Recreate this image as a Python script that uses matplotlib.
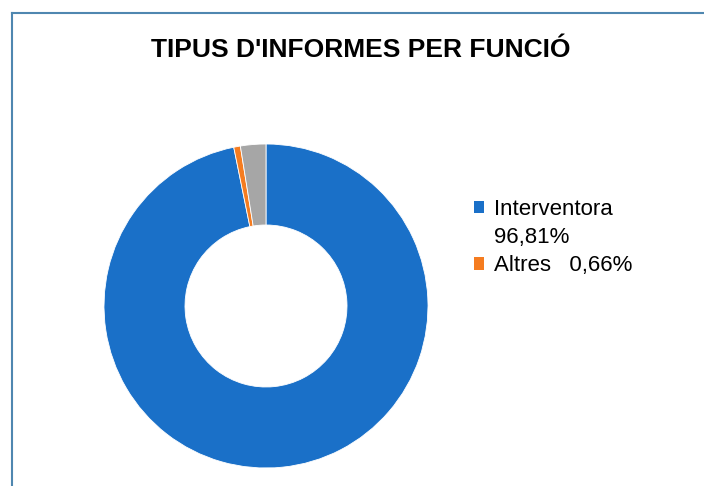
import matplotlib
matplotlib.use("Agg")
from matplotlib import pyplot as plt
from matplotlib.lines import Line2D
from matplotlib.patches import Patch

plt.rcParams['font.family'] = ['Liberation Sans', 'DejaVu Sans']

# Data
names = ["Interventora", "Altres", ""]
pct_labels = ["96,81%", "0,66%", "2,53%"]
values = [96.81, 0.66, 2.53]
colors = ['#1a70c8', '#f57c20', '#a6a6a6']

fig = plt.figure(figsize=(7.04, 4.86), dpi=100)

# donut: center ~(266,306) px, outer radius ~162 px
ax = fig.add_axes([104/704, 18/486, 324/704, 324/486])
wedges, _ = ax.pie(values, colors=colors, startangle=90, counterclock=False,
                   radius=1.0, wedgeprops=dict(width=0.5, edgecolor='white', linewidth=0.6))
ax.set_xlim(-1, 1)
ax.set_ylim(-1, 1)
ax.set_aspect('equal')
ax.axis('off')

# title
fig.text(361/704, 1 - 50/486, "TIPUS D'INFORMES PER FUNCIÓ", ha='center', va='center',
         fontsize=19, fontweight='bold', color='black')

# legend (only the first two series shown, first one wraps onto two lines)
handles = [Patch(facecolor=colors[0], edgecolor='none'),
           Patch(facecolor='none', edgecolor='none'),
           Patch(facecolor=colors[1], edgecolor='none')]
leg_labels = [names[0], pct_labels[0], names[1] + "   " + pct_labels[1]]
fig.legend(handles, leg_labels, loc='upper left', bbox_to_anchor=(465/704, 1 - 190/486),
           frameon=False, fontsize=16, handlelength=0.45, handleheight=0.5,
           handletextpad=0.45, labelspacing=0.32, borderaxespad=0)

# chart area border (left and top edges visible)
fig.add_artist(Line2D([12/704, 12/704], [0, 1 - 13/486], transform=fig.transFigure,
                      color='#4f87b0', linewidth=1.5))
fig.add_artist(Line2D([12/704, 1], [1 - 13/486, 1 - 13/486], transform=fig.transFigure,
                      color='#4f87b0', linewidth=1.5))

fig.savefig("out.png", dpi=100)
